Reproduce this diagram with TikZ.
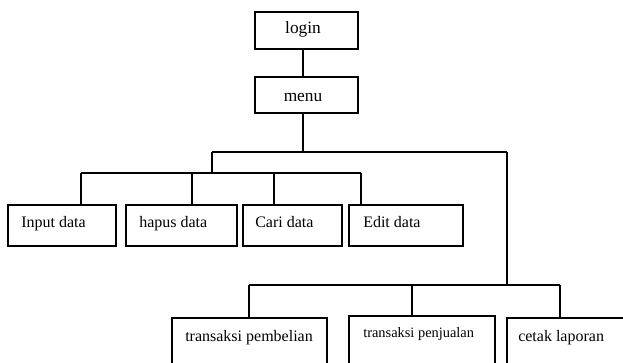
\documentclass[tikz,border=0pt]{standalone}
\usepackage{fontspec}
\setmainfont{Liberation Serif}
\usetikzlibrary{fit}
\begin{document}
\begin{tikzpicture}[x=0.75pt,y=-0.75pt,
  box/.style={draw,line width=0.9pt,inner sep=0pt},
  lbl/.style={inner sep=0pt,anchor=base west,font=\fontsize{12pt}{14pt}\selectfont},
  ttl/.style={inner sep=0pt,anchor=base,font=\fontsize{13pt}{15pt}\selectfont},
  wire/.style={line width=0.9pt}]
\clip (0,0) rectangle (623,363);
% top boxes
\node[box,fit={(255,12) (358,49)}] (login) {};
\node[box,fit={(255,77) (358,113)}] (menu) {};
\node[ttl] (tlogin) at (303,34) {login};
\node[ttl] (tmenu) at (303,101.5) {menu};
% data boxes
\node[box,fit={(8,205) (116,246)}] (input) {};
\node[box,fit={(126,205) (237,246)}] (hapus) {};
\node[box,fit={(243,205) (342,246)}] (cari) {};
\node[box,fit={(349,205) (463,246)}] (edit) {};
\node[lbl] (tinput) at (21,227) {Input data};
\node[lbl] (thapus) at (139,227) {hapus data};
\node[lbl] (tcari) at (255,227) {Cari data};
\node[lbl] (tedit) at (363,227) {Edit data};
% transaction boxes
\node[box,fit={(172,318) (327,380)}] (beli) {};
\node[box,fit={(349,316) (495,380)}] (jual) {};
\node[box,fit={(507,318) (640,380)}] (cetak) {};
\node[lbl] (tbeli) at (185,341.5) {transaksi pembelian};
\node[lbl,font=\fontsize{10.8pt}{13pt}\selectfont] (tjual) at (363,337.5) {transaksi penjualan};
\node[lbl] (tcetak) at (518,341.5) {cetak laporan};
% junctions
\coordinate (j1) at (303,152);
\coordinate (jL) at (212,152);
\coordinate (jR) at (507,152);
\coordinate (jD) at (212,173);
\coordinate (d1) at (81,173);
\coordinate (d2) at (192,173);
\coordinate (d3) at (274,173);
\coordinate (d4) at (361,173);
\coordinate (jT) at (507,285);
\coordinate (t1) at (249,285);
\coordinate (t2) at (412,285);
\coordinate (t3) at (560,285);
% connectors
\draw[wire] (j1 |- login.south) -- (j1 |- menu.north);
\draw[wire] (j1 |- menu.south) -- (j1);
\draw[wire] (jL) -- (jR);
\draw[wire] (jL) -- (jD);
\draw[wire] (d1) -- (d4);
\draw[wire] (d1) -- (d1 |- input.north);
\draw[wire] (d2) -- (d2 |- hapus.north);
\draw[wire] (d3) -- (d3 |- cari.north);
\draw[wire] (d4) -- (d4 |- edit.north);
\draw[wire] (jR) -- (jT);
\draw[wire] (t1) -- (t3);
\draw[wire] (t1) -- (t1 |- beli.north);
\draw[wire] (t2) -- (t2 |- jual.north);
\draw[wire] (t3) -- (t3 |- cetak.north);
\end{tikzpicture}
\end{document}
